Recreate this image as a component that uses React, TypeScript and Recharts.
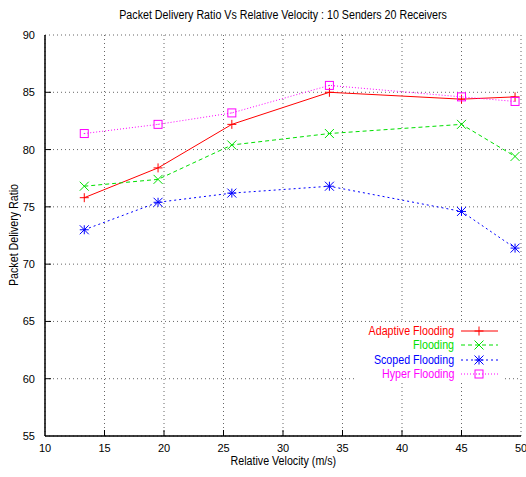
import React from "react";
import { LineChart, Line, XAxis, YAxis, CartesianGrid, Legend } from "recharts";

const velocity = [13.3, 19.5, 25.7, 33.9, 45.0, 49.5];
const adaptive = [75.8, 78.4, 82.2, 85.0, 84.4, 84.6];
const flooding = [76.8, 77.4, 80.4, 81.4, 82.2, 79.4];
const scoped = [73.0, 75.4, 76.2, 76.8, 74.6, 71.4];
const hyper = [81.4, 82.2, 83.2, 85.6, 84.6, 84.2];

const xTicks = [10, 15, 20, 25, 30, 35, 40, 45, 50];
const yTicks = [55, 60, 65, 70, 75, 80, 85, 90];

const data = velocity.map((v, i) => ({
  v,
  adaptive: adaptive[i],
  flooding: flooding[i],
  scoped: scoped[i],
  hyper: hyper[i],
}));

const FONT = "'Liberation Sans', Arial, sans-serif";

type Kind = "plus" | "cross" | "star" | "square";

const series: { key: string; name: string; color: string; dash?: string; kind: Kind }[] = [
  { key: "adaptive", name: "Adaptive Flooding", color: "#ff0000", kind: "plus" },
  { key: "flooding", name: "Flooding", color: "#00e000", dash: "4 3", kind: "cross" },
  { key: "scoped", name: "Scoped Flooding", color: "#0000ff", dash: "2 3", kind: "star" },
  { key: "hyper", name: "Hyper Flooding", color: "#ff00ff", dash: "1 2", kind: "square" },
];

function Marker({ cx, cy, color, kind }: { cx: number; cy: number; color: string; kind: Kind }) {
  const s = 4.5;
  const plus = (
    <>
      <line x1={cx - s} x2={cx + s} y1={cy} y2={cy} />
      <line x1={cx} x2={cx} y1={cy - s} y2={cy + s} />
    </>
  );
  const cross = (
    <>
      <line x1={cx - s} x2={cx + s} y1={cy - s} y2={cy + s} />
      <line x1={cx - s} x2={cx + s} y1={cy + s} y2={cy - s} />
    </>
  );
  return (
    <g stroke={color} strokeWidth={1} fill="none">
      {kind === "plus" && plus}
      {kind === "cross" && cross}
      {kind === "star" && (
        <>
          {plus}
          {cross}
        </>
      )}
      {kind === "square" && (
        <>
          <rect x={cx - 4} y={cy - 4} width={8} height={8} />
          <rect x={cx - 0.5} y={cy - 0.5} width={1} height={1} fill={color} stroke="none" />
        </>
      )}
    </g>
  );
}

const BottomTick = (p: any) => (
  <g>
    {p.payload.value !== 10 && p.payload.value !== 50 && (
      <line x1={p.x} x2={p.x} y1={p.y} y2={p.y - 6} stroke="#000" />
    )}
    <text x={p.x} y={p.y + 16} textAnchor="middle" fontSize={11} fontFamily={FONT} fill="#000">
      {p.payload.value}
    </text>
  </g>
);

const LeftTick = (p: any) => (
  <g>
    {p.payload.value !== 55 && p.payload.value !== 90 && (
      <line x1={p.x} x2={p.x + 6} y1={p.y} y2={p.y} stroke="#000" />
    )}
    <text x={p.x - 10} y={p.y + 4} textAnchor="end" fontSize={11} fontFamily={FONT} fill="#000">
      {p.payload.value}
    </text>
  </g>
);

const TopTick = (p: any) =>
  p.payload.value !== 10 && p.payload.value !== 50 ? (
    <line x1={p.x} x2={p.x} y1={p.y} y2={p.y + 6} stroke="#000" />
  ) : (
    <g />
  );

const RightTick = (p: any) =>
  p.payload.value !== 55 && p.payload.value !== 90 ? (
    <line x1={p.x} x2={p.x - 6} y1={p.y} y2={p.y} stroke="#000" />
  ) : (
    <g />
  );

const narrow: React.CSSProperties = {
  display: "inline-block",
  transform: "scaleX(0.89)",
  whiteSpace: "nowrap",
};

const LegendBox = () => (
  <div style={{ background: "#fff", padding: "2px 0", fontFamily: FONT, fontSize: 12 }}>
    {series.map((s) => (
      <div key={s.key} style={{ display: "flex", alignItems: "center", height: 14.3 }}>
        <span style={{ color: s.color, width: 100, textAlign: "right", lineHeight: "14px" }}>
          <span style={{ ...narrow, transformOrigin: "right center" }}>{s.name}</span>
        </span>
        <svg width={42} height={14} style={{ marginLeft: 6 }}>
          <line x1={1} x2={38} y1={7} y2={7} stroke={s.color} strokeDasharray={s.dash} />
          <Marker cx={19} cy={7} color={s.color} kind={s.kind} />
        </svg>
      </div>
    ))}
  </div>
);

export default function App() {
  return (
    <div style={{ position: "absolute", left: 0, top: 0, width: 526, height: 477, background: "#fff" }}>
      <div
        style={{
          position: "absolute",
          left: 45,
          width: 476,
          top: 8,
          textAlign: "center",
          fontFamily: FONT,
          fontSize: 12,
        }}
      >
        <span style={narrow}>Packet Delivery Ratio Vs Relative Velocity : 10 Senders 20 Receivers</span>
      </div>
      <div
        style={{
          position: "absolute",
          left: 45,
          width: 476,
          top: 454,
          textAlign: "center",
          fontFamily: FONT,
          fontSize: 12,
        }}
      >
        <span style={narrow}>Relative Velocity (m/s)</span>
      </div>
      <div
        style={{
          position: "absolute",
          left: 14,
          top: 235,
          transform: "translate(-50%, -50%) rotate(-90deg)",
          whiteSpace: "nowrap",
          fontFamily: FONT,
          fontSize: 12,
        }}
      >
        <span style={narrow}>Packet Delivery Ratio</span>
      </div>
      <LineChart width={526} height={477} data={data} margin={{ top: 35, right: 5, left: 0, bottom: 0 }}>
        <CartesianGrid stroke="#666" strokeDasharray="1 3" />
        <XAxis
          dataKey="v"
          type="number"
          domain={[10, 50]}
          ticks={xTicks}
          height={41}
          tickSize={0}
          tickMargin={0}
          tickLine={false}
          tick={BottomTick}
          axisLine={{ stroke: "#000", strokeWidth: 1.5 }}
          interval={0}
        />
        <XAxis
          xAxisId="top"
          orientation="top"
          dataKey="v"
          type="number"
          domain={[10, 50]}
          ticks={xTicks}
          height={0}
          tickSize={0}
          tickMargin={0}
          tickLine={false}
          tick={TopTick}
          axisLine={{ stroke: "#000", strokeWidth: 1.5 }}
          interval={0}
        />
        <YAxis
          type="number"
          domain={[55, 90]}
          ticks={yTicks}
          width={45}
          tickSize={0}
          tickMargin={0}
          tickLine={false}
          tick={LeftTick}
          axisLine={{ stroke: "#000", strokeWidth: 1.5 }}
          interval={0}
        />
        <YAxis
          yAxisId="right"
          orientation="right"
          type="number"
          domain={[55, 90]}
          ticks={yTicks}
          width={0}
          tickSize={0}
          tickMargin={0}
          tickLine={false}
          tick={RightTick}
          axisLine={{ stroke: "#000", strokeWidth: 1.5 }}
          interval={0}
        />
        {series.map((s) => (
          <Line
            key={s.key}
            dataKey={s.key}
            name={s.name}
            stroke={s.color}
            strokeWidth={1}
            strokeDasharray={s.dash}
            isAnimationActive={false}
            dot={(p: any) => <Marker key={p.index} cx={p.cx} cy={p.cy} color={s.color} kind={s.kind} />}
            activeDot={false}
          />
        ))}
        <Legend
          layout="horizontal"
          verticalAlign="middle"
          align="center"
          content={LegendBox}
          wrapperStyle={{ left: 354, top: 322, width: 150 }}
        />
      </LineChart>
    </div>
  );
}
